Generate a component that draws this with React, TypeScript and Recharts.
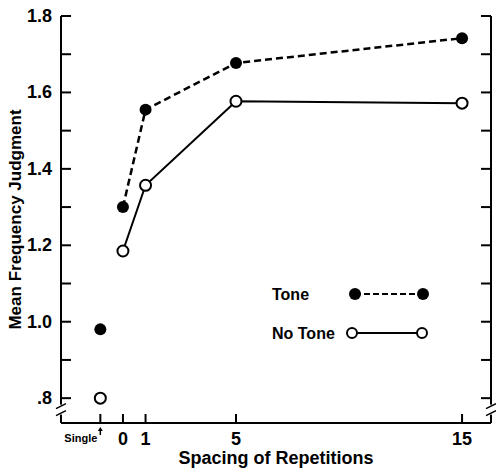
import { Legend, Line, LineChart, ReferenceDot, XAxis, YAxis } from 'recharts'

const spacing = [0, 1, 5, 15]
const toneMeans = [1.3, 1.555, 1.677, 1.742]
const noToneMeans = [1.185, 1.357, 1.577, 1.572]
const singleX = -1
const singleTone = 0.98
const singleNoTone = 0.8
const xTicks = [-1, 0, 1, 5, 15]
const yTicks = [0.8, 0.9, 1.0, 1.1, 1.2, 1.3, 1.4, 1.5, 1.6, 1.7, 1.8]

const FONT = '"Liberation Sans", Arial, sans-serif'
const X_DOMAIN: [number, number] = [-2.74, 16.28]
const Y_DOMAIN: [number, number] = [0.735, 1.8]
const BREAK_Y = 0.77

const repeated = spacing.map((x, i) => ({ x, tone: toneMeans[i], noTone: noToneMeans[i] }))
const single = [{ x: singleX, tone: singleTone, noTone: singleNoTone }]

function yLabel(v: number) {
  if (v < 1) return '.' + Math.round(v * 10)
  return v.toFixed(1)
}

function LeftTick({ x, y, payload }: any) {
  const v = payload.value as number
  const major = Math.round(v * 10) % 2 === 0
  return (
    <g>
      <line x1={x} x2={x + 10} y1={y} y2={y} stroke="#000" strokeWidth={2} />
      {major && (
        <text x={x - 9} y={y + 6} textAnchor="end" fontFamily={FONT} fontWeight="bold" fontSize={18} fill="#000">
          {yLabel(v)}
        </text>
      )}
    </g>
  )
}

function RightTick({ x, y }: any) {
  return <line x1={x} x2={x - 10} y1={y} y2={y} stroke="#000" strokeWidth={2} />
}

function BottomTick({ x, y, payload }: any) {
  const v = payload.value as number
  return (
    <g>
      <line x1={x} x2={x} y1={y} y2={y - 9} stroke="#000" strokeWidth={2} />
      {v === singleX ? (
        <g>
          <line x1={x} x2={x} y1={y + 6} y2={y + 12} stroke="#000" strokeWidth={1.5} />
          <path d={`M${x - 2.5},${y + 8} L${x},${y + 4} L${x + 2.5},${y + 8} Z`} fill="#000" />
          <text x={x - 3} y={y + 19} textAnchor="end" fontFamily={FONT} fontWeight="bold" fontSize={11} fill="#000">
            Single
          </text>
        </g>
      ) : (
        <text x={x} y={y + 22} textAnchor="middle" fontFamily={FONT} fontWeight="bold" fontSize={18} fill="#000">
          {v}
        </text>
      )}
    </g>
  )
}

function AxisBreak({ cx, cy }: any) {
  return (
    <g>
      <rect x={cx - 4} y={cy - 5} width={8} height={10} fill="#fff" />
      <path
        d={`M${cx - 5},${cy - 1} L${cx + 5},${cy - 6} M${cx - 5},${cy + 6} L${cx + 5},${cy + 1}`}
        stroke="#000"
        strokeWidth={1.5}
        fill="none"
      />
    </g>
  )
}

function LegendBox() {
  return (
    <svg width={180} height={64}>
      <text x={4} y={18} fontFamily={FONT} fontWeight="bold" fontSize={16} fill="#000">Tone</text>
      <line x1={87} x2={155} y1={12} y2={12} stroke="#000" strokeWidth={2} strokeDasharray="6 3" />
      <circle cx={87} cy={12} r={6} fill="#000" />
      <circle cx={155} cy={12} r={6} fill="#000" />
      <text x={4} y={57} fontFamily={FONT} fontWeight="bold" fontSize={16} fill="#000">No Tone</text>
      <line x1={84} x2={154} y1={51} y2={51} stroke="#000" strokeWidth={2} />
      <circle cx={84} cy={51} r={5} fill="#fff" stroke="#000" strokeWidth={2} />
      <circle cx={154} cy={51} r={5} fill="#fff" stroke="#000" strokeWidth={2} />
    </svg>
  )
}

export default function App() {
  return (
    <div style={{ position: 'absolute', left: 0, top: 0, width: 496, height: 472, background: '#fff' }}>
      <LineChart width={496} height={472} margin={{ top: 16, right: 0, left: 0, bottom: 0 }}>
        <XAxis
          type="number"
          dataKey="x"
          domain={X_DOMAIN}
          allowDataOverflow
          ticks={xTicks}
          interval={0}
          height={49}
          tickSize={0}
          tickMargin={0}
          tickLine={false}
          tick={<BottomTick />}
          axisLine={{ stroke: '#000', strokeWidth: 2 }}
          label={{
            value: 'Spacing of Repetitions',
            position: 'insideBottom',
            offset: 8,
            style: { fontFamily: FONT, fontWeight: 'bold', fontSize: 18, fill: '#000' },
          }}
        />
        <XAxis
          xAxisId="top"
          orientation="top"
          type="number"
          domain={X_DOMAIN}
          allowDataOverflow
          height={0}
          tick={false}
          tickLine={false}
          axisLine={{ stroke: '#000', strokeWidth: 2 }}
        />
        <YAxis
          type="number"
          domain={Y_DOMAIN}
          allowDataOverflow
          ticks={yTicks}
          interval={0}
          width={61}
          tickSize={0}
          tickMargin={0}
          tickLine={false}
          tick={<LeftTick />}
          axisLine={{ stroke: '#000', strokeWidth: 2 }}
          label={{
            value: 'Mean Frequency Judgment',
            angle: -90,
            position: 'insideLeft',
            offset: 15,
            style: { fontFamily: FONT, fontWeight: 'bold', fontSize: 17, fill: '#000', textAnchor: 'middle' },
          }}
        />
        <YAxis
          yAxisId="right"
          orientation="right"
          type="number"
          domain={Y_DOMAIN}
          allowDataOverflow
          ticks={yTicks}
          interval={0}
          width={5}
          tickSize={0}
          tickMargin={0}
          tickLine={false}
          tick={<RightTick />}
          axisLine={{ stroke: '#000', strokeWidth: 2 }}
        />
        <Line
          data={repeated}
          dataKey="tone"
          name="Tone"
          stroke="#000"
          strokeWidth={2.5}
          strokeDasharray="7 4"
          dot={{ r: 6, fill: '#000', stroke: '#000', strokeWidth: 0 }}
          isAnimationActive={false}
        />
        <Line
          data={repeated}
          dataKey="noTone"
          name="No Tone"
          stroke="#000"
          strokeWidth={2}
          dot={{ r: 5.5, fill: '#fff', stroke: '#000', strokeWidth: 2 }}
          isAnimationActive={false}
        />
        <Line
          data={single}
          dataKey="tone"
          legendType="none"
          stroke="none"
          dot={{ r: 6, fill: '#000', stroke: '#000', strokeWidth: 0 }}
          isAnimationActive={false}
        />
        <Line
          data={single}
          dataKey="noTone"
          legendType="none"
          stroke="none"
          dot={{ r: 5.5, fill: '#fff', stroke: '#000', strokeWidth: 2 }}
          isAnimationActive={false}
        />
        <ReferenceDot x={X_DOMAIN[0]} y={BREAK_Y} ifOverflow="visible" shape={<AxisBreak />} />
        <ReferenceDot x={X_DOMAIN[1]} y={BREAK_Y} ifOverflow="visible" shape={<AxisBreak />} />
        <Legend
          layout="vertical"
          align="center"
          verticalAlign="middle"
          wrapperStyle={{ left: 268, top: 282, width: 180, height: 64 }}
          content={() => <LegendBox />}
        />
      </LineChart>
    </div>
  )
}
